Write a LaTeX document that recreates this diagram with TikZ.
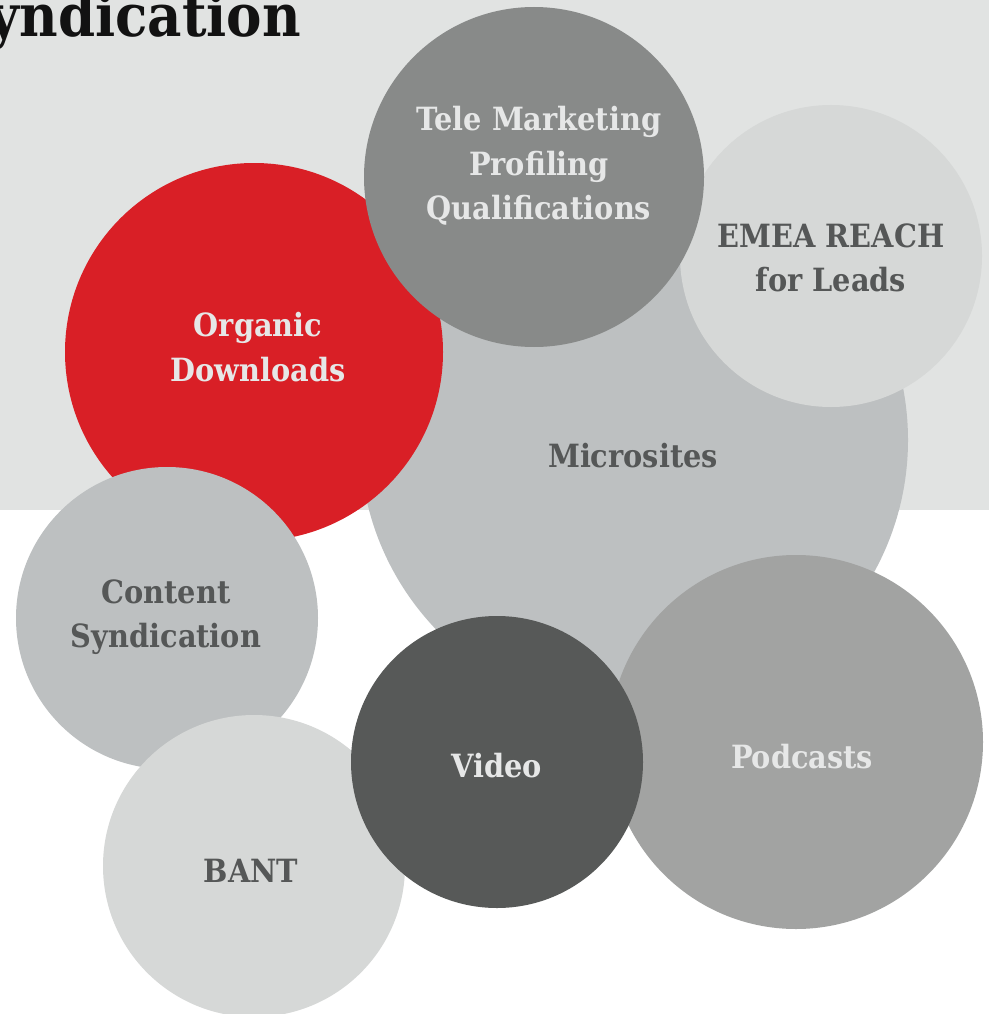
\documentclass[tikz,border=0pt]{standalone}
\usepackage{fontspec}
\setmainfont{DejaVu Serif Condensed}
\definecolor{bg}{HTML}{E1E3E2}
\definecolor{cmid}{HTML}{BDC0C1}
\definecolor{cred}{HTML}{D91F26}
\definecolor{cdark}{HTML}{888A89}
\definecolor{clight}{HTML}{D6D8D7}
\definecolor{cvid}{HTML}{575958}
\definecolor{cpod}{HTML}{A2A3A2}
\definecolor{tdark}{HTML}{555757}
\definecolor{tlight}{HTML}{E6E7E7}
\begin{document}
\begin{tikzpicture}[x=1pt,y=-1pt,
  bubble/.style={circle,inner sep=0pt},
  lbl/.style={align=center,inner sep=0pt,font=\bfseries\fontsize{32}{44.5}\selectfont},
  ondark/.style={lbl,text=tlight},
  onlight/.style={lbl,text=tdark}]
\useasboundingbox (0,0) rectangle (989,1014);
\clip (0,0) rectangle (989,1014);
\fill[bg] (0,0) rectangle (989,510);
\node[anchor=base east,inner sep=0pt,text=black!93,font=\bfseries\fontsize{59}{60}\selectfont] (title) at (301,37) {Syndication};
\node[bubble,fill=cmid,minimum size=548pt] (micro) at (634,440) {};
\node[onlight] (microt) at (633,456) {Microsites};
\node[bubble,fill=clight,minimum size=302pt] (emea) at (831,256) {};
\node[onlight] (emeat) at (831,258) {EMEA REACH\\for Leads};
\node[bubble,fill=cred,minimum size=378pt] (org) at (254,352) {};
\node[ondark] (orgt) at (258,347) {Organic\\Downloads};
\node[bubble,fill=cdark,minimum size=340pt] (tele) at (534,177) {};
\node[ondark] (telet) at (539,166) {Tele Marketing\\Profiling\\Qualifications};
\node[bubble,fill=cmid,minimum size=302pt] (cont) at (167,618) {};
\node[onlight] (contt) at (166,617) {Content\\Syndication};
\node[bubble,fill=clight,minimum size=302pt] (bant) at (254,866) {};
\node[onlight] (bantt) at (251,871) {BANT};
\node[bubble,fill=cpod,minimum size=374pt] (pod) at (796,742) {};
\node[ondark] (podt) at (802,757) {Podcasts};
\node[bubble,fill=cvid,minimum size=292pt] (vid) at (497,762) {};
\node[ondark] (vidt) at (497,766) {Video};
\end{tikzpicture}
\end{document}
